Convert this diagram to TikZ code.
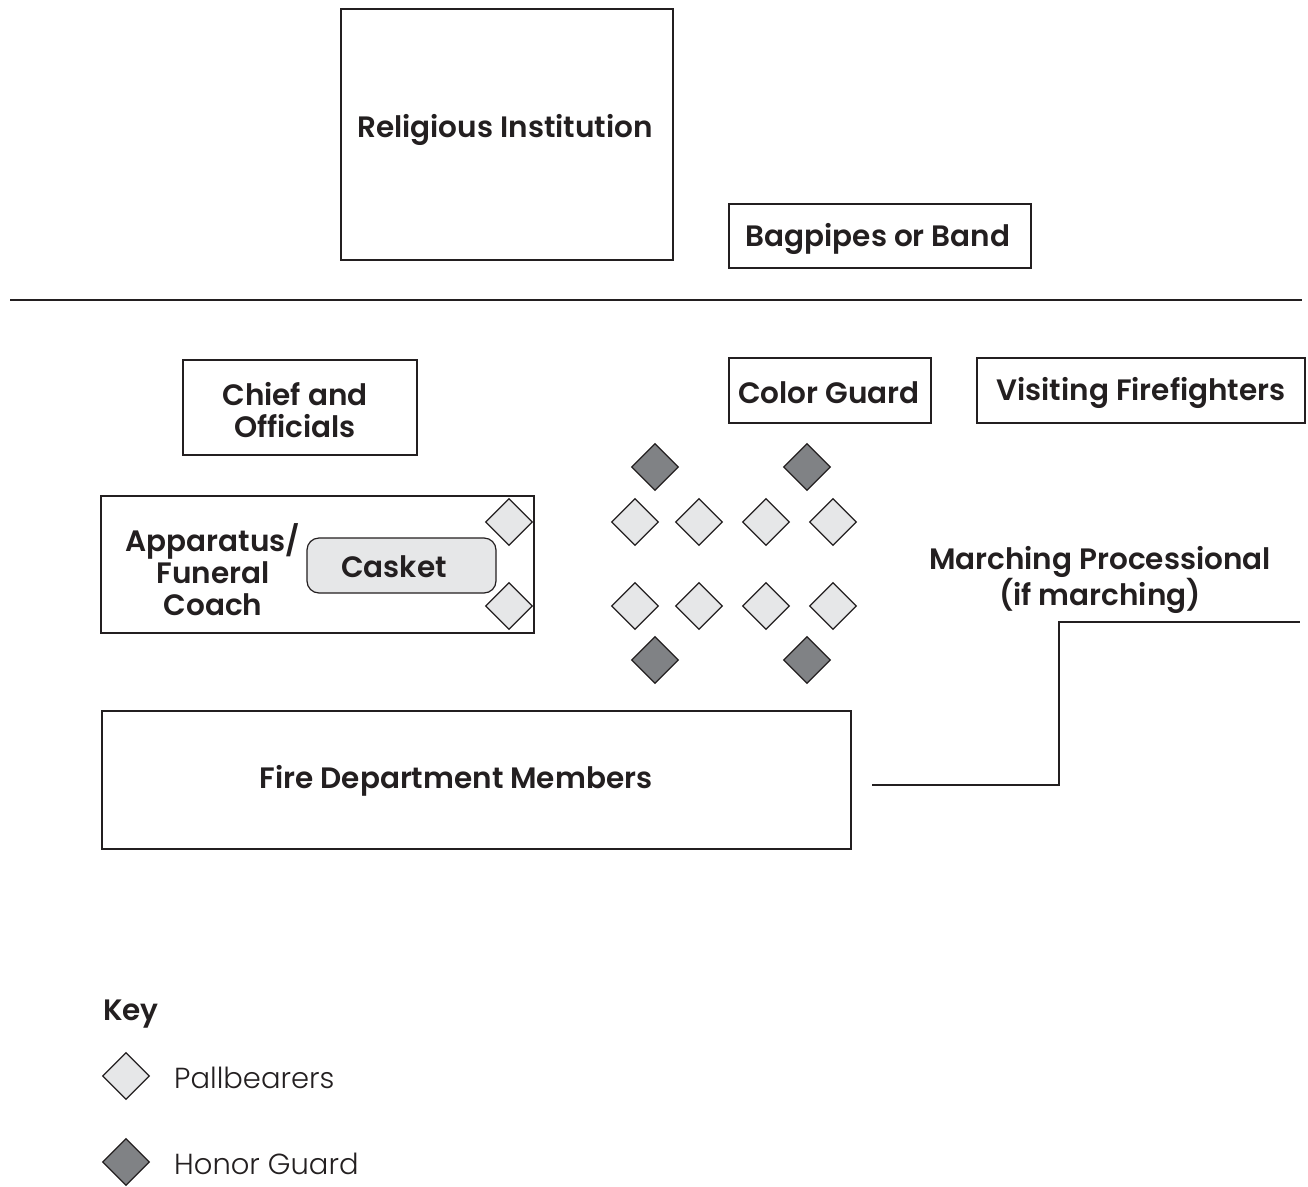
\documentclass[tikz,border=0pt]{standalone}
\usepackage{fontspec}
\setmainfont{Poppins}[BoldFont={Poppins SemiBold}]
\newfontfamily\lightfam{Poppins Light}
\usetikzlibrary{shapes.geometric}
\definecolor{ink}{HTML}{231F20}
\definecolor{lightg}{HTML}{E6E7E8}
\definecolor{darkg}{HTML}{808285}
\begin{document}
\begin{tikzpicture}[x=1pt,y=-1pt,
  box/.style={draw=ink, line width=1.2pt, rectangle, inner sep=0pt},
  lbl/.style={font=\fontsize{29.5}{32}\selectfont\bfseries, text=ink, align=center, inner sep=0pt},
  keytxt/.style={font=\fontsize{29}{32}\selectfont\lightfam, text=ink, anchor=west, inner sep=0pt},
  pb/.style={diamond, draw=ink, fill=lightg, line width=1.2pt, minimum width=47pt, minimum height=47pt, inner sep=0pt, aspect=1},
  hg/.style={pb, fill=darkg}]
\useasboundingbox (0,0) rectangle (1308,1186);
\fill[white] (0,0) rectangle (1308,1186);

% top
\node[box, minimum width=332pt, minimum height=251pt] (rel) at (507,134.5) {};
\node[lbl] (relt) at (505,130) {Religious Institution};
\node[box, minimum width=302pt, minimum height=64pt] (bag) at (880,236) {};
\node[lbl] (bagt) at (878,239) {Bagpipes or Band};
\coordinate (hl) at (10,300);
\coordinate (hr) at (1302,300);
\draw[ink, line width=1.2pt] (hl) -- (hr);

% middle
\node[box, minimum width=234pt, minimum height=95pt] (chief) at (300,407.5) {};
\node[lbl] (chieft) at (295,410) {Chief and\\ Officials};
\node[box, minimum width=202pt, minimum height=65pt] (cg) at (830,390.5) {};
\node[lbl] (cgt) at (829,393) {Color Guard};
\node[box, minimum width=328pt, minimum height=65pt] (vf) at (1141,390.5) {};
\node[lbl] (vft) at (1141,393) {Visiting Firefighters};

\node[box, minimum width=433pt, minimum height=137pt] (app) at (317.5,564.5) {};
\node[lbl] (appt) at (213,570) {Apparatus/\\ Funeral\\ Coach};
\node[draw=ink, line width=1.2pt, fill=lightg, rounded corners=12pt, minimum width=189pt, minimum height=55pt, inner sep=0pt] (casket) at (401.5,565.5) {};
\node[lbl] (caskett) at (394,567) {Casket};
\node[pb] (a1) at (509,522) {};
\node[pb] (a2) at (509,606) {};

\node[hg] (h1) at (655,467) {};
\node[hg] (h2) at (807,467) {};
\node[pb] (p1) at (635,522) {};
\node[pb] (p2) at (699,522) {};
\node[pb] (p3) at (766,522) {};
\node[pb] (p4) at (833,522) {};
\node[pb] (p5) at (635,606) {};
\node[pb] (p6) at (699,606) {};
\node[pb] (p7) at (766,606) {};
\node[pb] (p8) at (833,606) {};
\node[hg] (h3) at (655,660) {};
\node[hg] (h4) at (807,660) {};

\node[lbl] (mpt) at (1100,580) {Marching Processional\\ (if marching)};
\coordinate (m1) at (872,785);
\coordinate (m2) at (1059,785);
\coordinate (m3) at (1059,622);
\coordinate (m4) at (1300,622);
\draw[ink, line width=2.6pt] (m1) -- (m2) -- (m3) -- (m4);

\node[box, minimum width=749pt, minimum height=138pt] (fdm) at (476.5,780) {};
\node[lbl] (fdmt) at (456,781) {Fire Department Members};

% key
\node[lbl, anchor=west] (key) at (103,1014) {Key};
\node[pb] (k1) at (126,1076) {};
\node[keytxt] (k1t) at (174,1078) {Pallbearers};
\node[hg] (k2) at (126,1162) {};
\node[keytxt] (k2t) at (174,1164) {Honor Guard};
\end{tikzpicture}
\end{document}
